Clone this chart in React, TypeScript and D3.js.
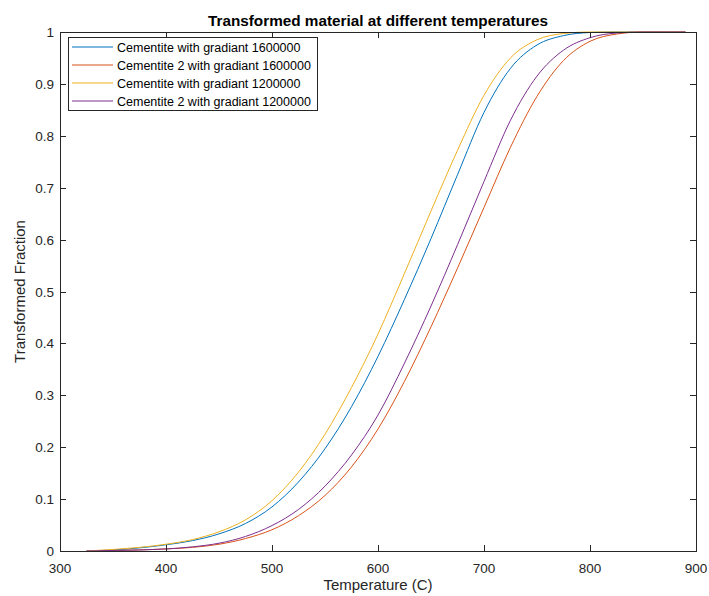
import React, { useEffect, useRef } from 'react';
import * as d3 from 'd3';

// temperatures (C)
const temps = [325, 350, 375, 400, 425, 450, 475, 500, 525, 550, 575, 600, 625, 650, 675, 700, 725, 750, 775, 800, 825, 850, 875, 890];

// transformed fraction at the temps above
const cem1600 = [0, 0.002, 0.006, 0.012, 0.02, 0.033, 0.053, 0.085, 0.133, 0.197, 0.278, 0.375, 0.485, 0.602, 0.725, 0.845, 0.93, 0.975, 0.993, 0.999, 1, 1, 1, 1];
const cem2_1600 = [0, 0.001, 0.002, 0.004, 0.007, 0.013, 0.024, 0.041, 0.068, 0.107, 0.162, 0.235, 0.327, 0.432, 0.545, 0.662, 0.778, 0.876, 0.945, 0.982, 0.996, 1, 1, 1];
const cem1200 = [0, 0.003, 0.007, 0.013, 0.022, 0.037, 0.06, 0.097, 0.152, 0.225, 0.315, 0.418, 0.535, 0.655, 0.772, 0.878, 0.95, 0.985, 0.997, 1, 1, 1, 1, 1];
const cem2_1200 = [0, 0.001, 0.002, 0.004, 0.008, 0.015, 0.028, 0.049, 0.08, 0.125, 0.185, 0.262, 0.362, 0.472, 0.59, 0.712, 0.83, 0.915, 0.965, 0.989, 0.998, 1, 1, 1];

const seriesNames = [
  'Cementite with gradiant 1600000',
  'Cementite 2 with gradiant 1600000',
  'Cementite with gradiant 1200000',
  'Cementite 2 with gradiant 1200000',
];
const seriesValues = [cem1600, cem2_1600, cem1200, cem2_1200];
const colors = ['#0072BD', '#D95319', '#EDB120', '#7E2F8E'];

const xTicks = [300, 400, 500, 600, 700, 800, 900];
const yTicks = [0, 0.1, 0.2, 0.3, 0.4, 0.5, 0.6, 0.7, 0.8, 0.9, 1];

const W = 709;
const H = 596;
const margin = { left: 60, right: 13, top: 32, bottom: 45 };
const FONT = 'Liberation Sans, Arial, Helvetica, sans-serif';
const AXIS = '#262626';

export default function App() {
  const svgRef = useRef<SVGSVGElement | null>(null);

  useEffect(() => {
    if (!svgRef.current) return;
    const svg = d3.select(svgRef.current);
    svg.selectAll('*').remove();

    const x = d3.scaleLinear().domain([300, 900]).range([margin.left, W - margin.right]);
    const y = d3.scaleLinear().domain([0, 1]).range([H - margin.bottom, margin.top]);
    const [x0, x1] = x.range();
    const [y0, y1] = y.range();
    const tickLen = 6;

    svg.append('rect').attr('width', W).attr('height', H).attr('fill', 'white');

    // curves
    const line = d3.line<number>()
      .x((_, i) => x(temps[i]))
      .y(d => y(d))
      .curve(d3.curveMonotoneX);

    seriesValues.forEach((vals, k) => {
      svg.append('path')
        .attr('d', line(vals))
        .attr('fill', 'none')
        .attr('stroke', colors[k])
        .attr('stroke-width', 1);
    });

    // box
    svg.append('rect')
      .attr('x', x0 + 0.5).attr('y', y1 + 0.5)
      .attr('width', x1 - x0).attr('height', y0 - y1)
      .attr('fill', 'none').attr('stroke', AXIS).attr('stroke-width', 1);

    // ticks (inward on all four sides)
    const tg = svg.append('g').attr('stroke', AXIS).attr('stroke-width', 1);
    xTicks.forEach(t => {
      const px = Math.round(x(t)) + 0.5;
      tg.append('line').attr('x1', px).attr('x2', px).attr('y1', y0).attr('y2', y0 - tickLen);
      tg.append('line').attr('x1', px).attr('x2', px).attr('y1', y1).attr('y2', y1 + tickLen);
    });
    yTicks.forEach(t => {
      const py = Math.round(y(t)) + 0.5;
      tg.append('line').attr('x1', x0).attr('x2', x0 + tickLen).attr('y1', py).attr('y2', py);
      tg.append('line').attr('x1', x1).attr('x2', x1 - tickLen).attr('y1', py).attr('y2', py);
    });

    // tick labels
    svg.append('g').selectAll('text').data(xTicks).enter().append('text')
      .attr('x', d => x(d)).attr('y', y0 + 22)
      .attr('text-anchor', 'middle')
      .style('font-family', FONT).style('font-size', '13.5px').style('fill', AXIS)
      .text(d => d3.format('d')(d));

    svg.append('g').selectAll('text').data(yTicks).enter().append('text')
      .attr('x', x0 - 6).attr('y', d => y(d) + 5)
      .attr('text-anchor', 'end')
      .style('font-family', FONT).style('font-size', '13.5px').style('fill', AXIS)
      .text(d => (d === 0 || d === 1 ? String(d) : d.toFixed(1)));

    // axis labels and title
    svg.append('text')
      .attr('x', (x0 + x1) / 2).attr('y', H - 6)
      .attr('text-anchor', 'middle')
      .style('font-family', FONT).style('font-size', '15px').style('fill', AXIS)
      .text('Temperature (C)');

    svg.append('text')
      .attr('transform', `translate(25,${(y0 + y1) / 2}) rotate(-90)`)
      .attr('text-anchor', 'middle')
      .style('font-family', FONT).style('font-size', '15px').style('fill', AXIS)
      .text('Transformed Fraction');

    svg.append('text')
      .attr('x', (x0 + x1) / 2).attr('y', 26)
      .attr('text-anchor', 'middle')
      .style('font-family', FONT).style('font-size', '15.3px').style('font-weight', 'bold').style('fill', 'black')
      .text('Transformed material at different temperatures');

    // legend
    const lg = svg.append('g').attr('transform', 'translate(68,37)');
    lg.append('rect')
      .attr('x', 0.5).attr('y', 0.5).attr('width', 249).attr('height', 73)
      .attr('fill', 'white').attr('stroke', AXIS).attr('stroke-width', 1);
    seriesNames.forEach((name, k) => {
      const cy = 10 + k * 18;
      lg.append('line')
        .attr('x1', 4).attr('x2', 45).attr('y1', cy).attr('y2', cy)
        .attr('stroke', colors[k]).attr('stroke-width', 1);
      lg.append('text')
        .attr('x', 49).attr('y', cy + 4.5)
        .style('font-family', FONT).style('font-size', '12.5px').style('fill', 'black')
        .text(name);
    });
  }, []);

  return (
    <svg
      ref={svgRef}
      width={W}
      height={H}
      style={{ position: 'absolute', left: 0, top: 0, display: 'block' }}
    />
  );
}
